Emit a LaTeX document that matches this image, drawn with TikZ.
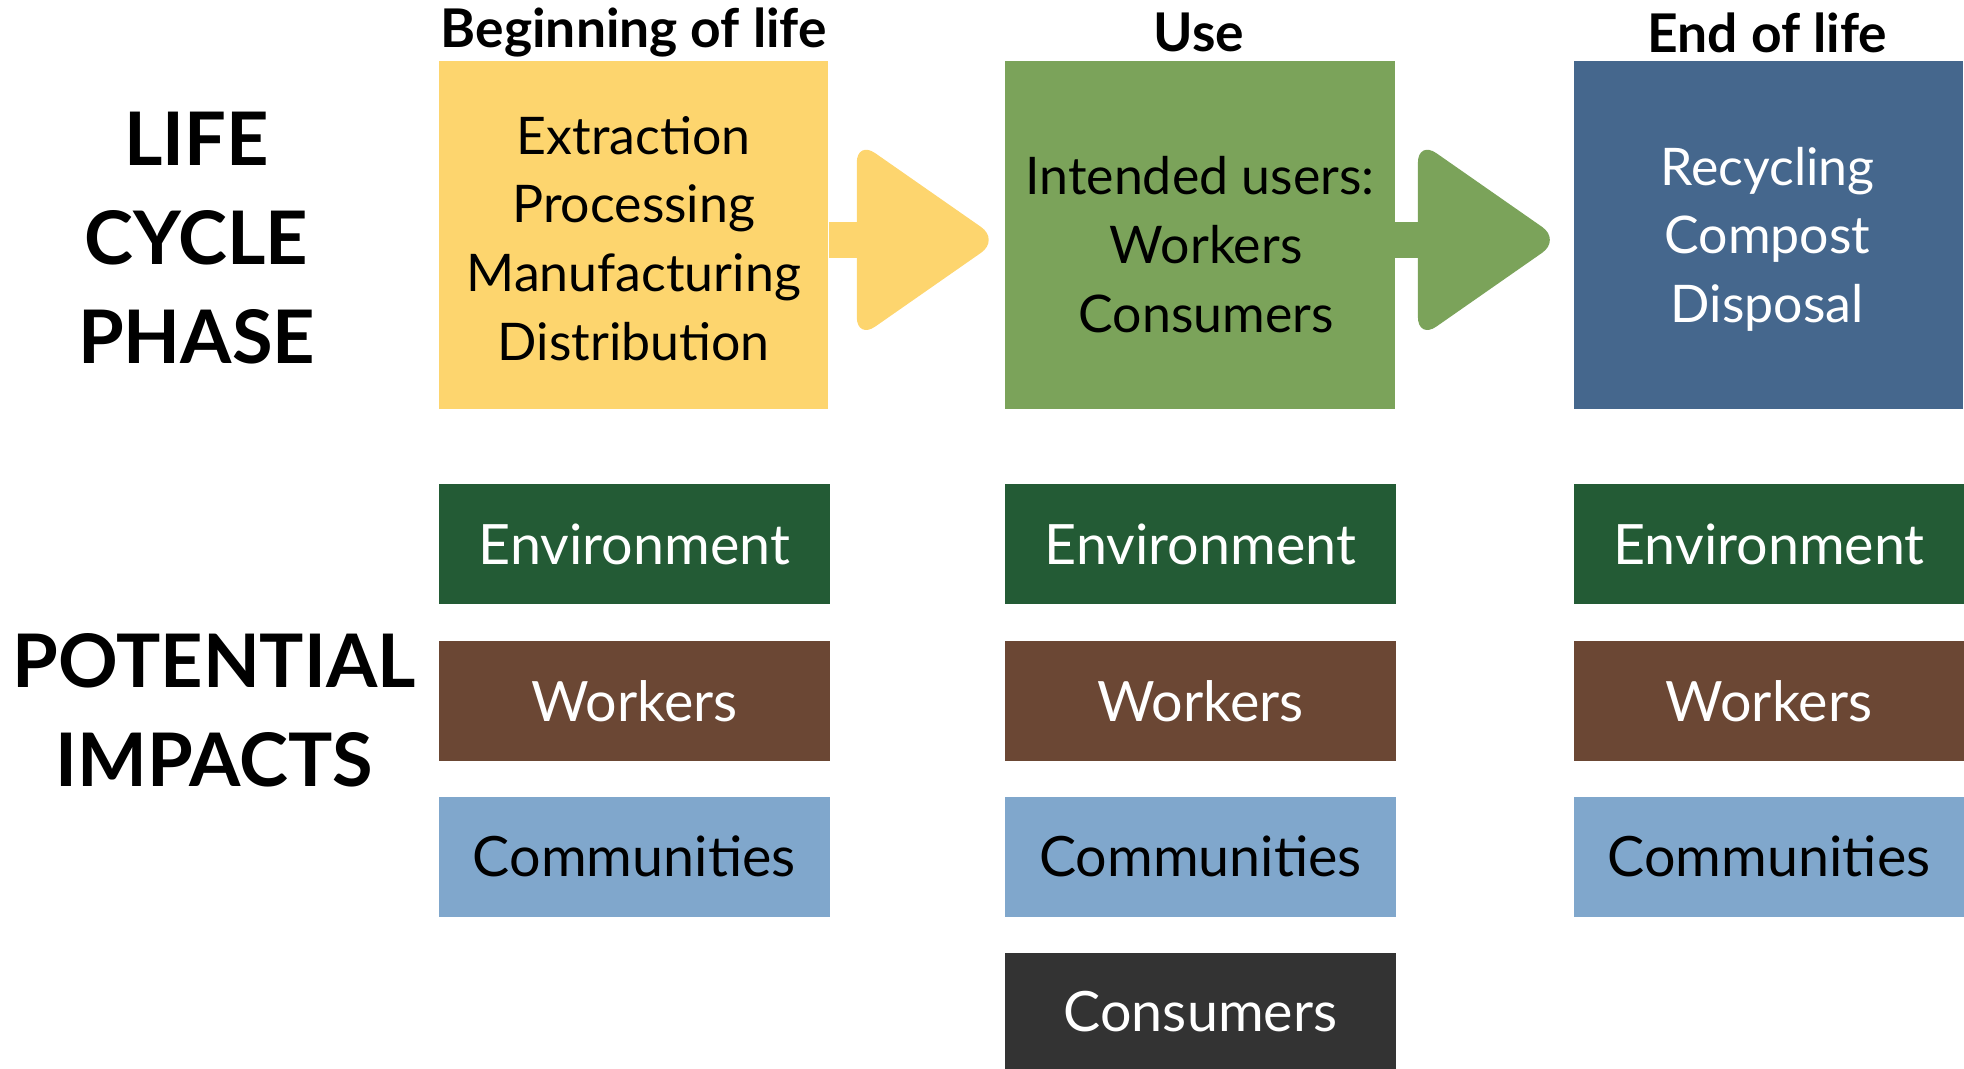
\documentclass[tikz,border=0pt]{standalone}
\usepackage{fontspec}
\setmainfont{Lato}
\usetikzlibrary{calc}
\definecolor{cyellow}{HTML}{FDD56E}
\definecolor{cgreen}{HTML}{7BA35A}
\definecolor{cblue}{HTML}{45678D}
\definecolor{cenv}{HTML}{235B35}
\definecolor{cwork}{HTML}{6B4734}
\definecolor{ccomm}{HTML}{80A7CC}
\definecolor{ccons}{HTML}{333333}
\tikzset{
  phasebox/.style={rectangle, inner sep=0pt, minimum width=155.5pt, minimum height=139pt, anchor=north west},
  phasetext/.style={font=\fontsize{20.7pt}{27.5pt}\selectfont, align=center},
  impactbox/.style={rectangle, inner sep=0pt, minimum width=156pt, minimum height=48pt, anchor=north west, font=\fontsize{22.2pt}{26pt}\selectfont},
  header/.style={font=\fontsize{21.3pt}{24pt}\selectfont\bfseries},
  bigtitle/.style={font=\fontsize{29.5pt}{39.5pt}\selectfont\bfseries, align=center},
}
\begin{document}
\begin{tikzpicture}[x=0.5pt,y=-0.5pt]
\useasboundingbox (0,0) rectangle (1568,853);
% phase boxes
\node[phasebox, fill=cyellow] (bol) at (350,48) {};
\node[phasebox, fill=cgreen] (use) at (802,48) {};
\node[phasebox, fill=cblue] (eol) at (1256,48) {};
\node[phasetext] (boltxt) at (506,190.5) {Extraction\\Processing\\Manufacturing\\Distribution};
\node[phasetext] (usetxt) at (958,195) {Intended users:\\\hspace*{5pt}Workers\\\hspace*{5pt}Consumers};
\node[phasetext, text=white] (eoltxt) at (1411,191) {Recycling\\Compost\\Disposal};
% headers
\node[header] (h1) at (506,26) {Beginning of life};
\node[header] (h2) at (957,26) {Use};
\node[header] (h3) at (1411,26) {End of life};
% arrows
\fill[cyellow] (bol.east |- 0,177) -- (690,177) -- (690,206) -- (bol.east |- 0,206) -- cycle;
\fill[cyellow, rounded corners=9pt] (684,112) -- (798,191.5) -- (684,271) -- cycle;
\fill[cyellow] (684,150) rectangle (697,235);
\fill[cgreen] (use.east |- 0,177) -- (1140,177) -- (1140,206) -- (use.east |- 0,206) -- cycle;
\fill[cgreen, rounded corners=9pt] (1132,112) -- (1246,191.5) -- (1132,271) -- cycle;
\fill[cgreen] (1132,150) rectangle (1145,235);
% titles
\node[bigtitle] (lcp) at (157,190) {LIFE\\CYCLE\\PHASE};
\node[bigtitle] (pi) at (171,567) {POTENTIAL\\IMPACTS};
% impacts
\foreach \x/\n in {350/a,802/b,1256/c}{
  \node[impactbox, fill=cenv, text=white] (env\n) at (\x,386) {Environment};
  \node[impactbox, fill=cwork, text=white] (work\n) at (\x,511.5) {Workers};
  \node[impactbox, fill=ccomm, text=black] (comm\n) at (\x,635.5) {Communities};
}
\node[impactbox, fill=ccons, text=white, minimum height=46.5pt] (consb) at (802,760.5) {Consumers};
\end{tikzpicture}
\end{document}
